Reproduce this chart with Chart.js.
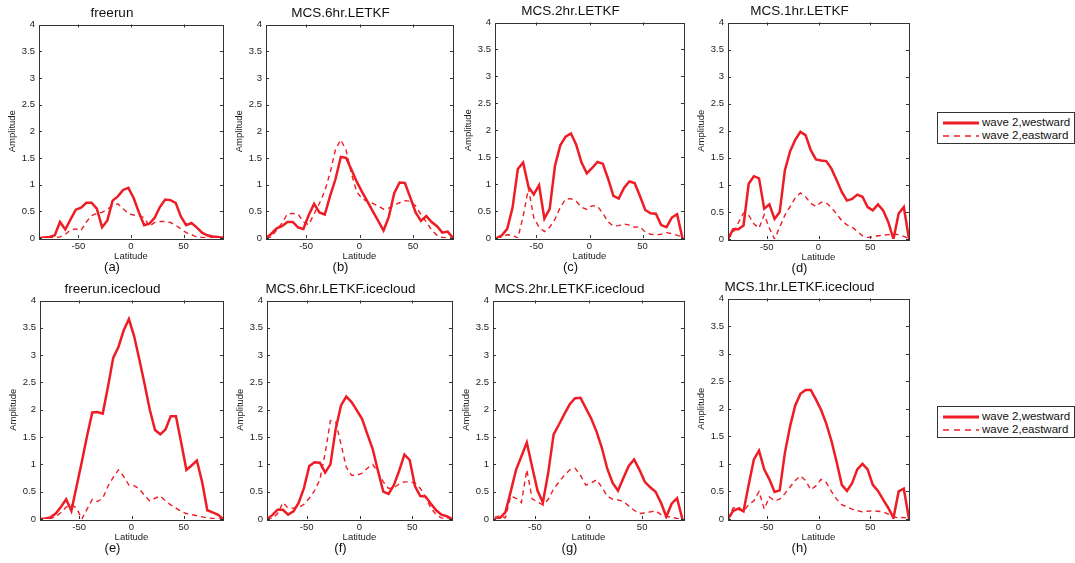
<!DOCTYPE html>
<html>
<head>
<meta charset="utf-8">
<script src="https://cdn.jsdelivr.net/npm/chart.js@4"></script>
<style>
  body { margin: 0; background: #fff; width: 1075px; height: 563px; position: relative; overflow: hidden; font-family: "Liberation Sans", Arial, sans-serif; }
  canvas { position: absolute; }
  .legend { position: absolute; left: 937px; width: 136px; height: 30px; border: 1px solid #333; background: #fff; font-size: 11.5px; color: #111; }
  .legend .row { position: absolute; left: 5px; height: 13px; line-height: 13px; white-space: nowrap; }
  .legend svg { vertical-align: middle; margin-right: 3px; }
</style>
</head>
<body>
<div class="legend" style="top:112px">
  <div class="row" style="top:3px"><svg width="36" height="6"><line x1="0" y1="3" x2="36" y2="3" stroke="#ee1c24" stroke-width="3"/></svg>wave 2,westward</div>
  <div class="row" style="top:16px"><svg width="36" height="6"><line x1="0" y1="3" x2="36" y2="3" stroke="#ee1c24" stroke-width="1.5" stroke-dasharray="6,5"/></svg>wave 2,eastward</div>
</div>
<div class="legend" style="top:406px">
  <div class="row" style="top:3px"><svg width="36" height="6"><line x1="0" y1="3" x2="36" y2="3" stroke="#ee1c24" stroke-width="3"/></svg>wave 2,westward</div>
  <div class="row" style="top:16px"><svg width="36" height="6"><line x1="0" y1="3" x2="36" y2="3" stroke="#ee1c24" stroke-width="1.5" stroke-dasharray="6,5"/></svg>wave 2,eastward</div>
</div>
<script>
// latitude grid (deg)
const lats = [-87.5, -82.5, -77.5, -72.5, -67.5, -62.5, -57.5, -52.5, -47.5, -42.5, -37.5, -32.5,
  -27.5, -22.5, -17.5, -12.5, -7.5, -2.5, 2.5, 7.5, 12.5, 17.5, 22.5, 27.5,
  32.5, 37.5, 42.5, 47.5, 52.5, 57.5, 62.5, 67.5, 72.5, 77.5, 82.5, 87.5];

const xTicks = [-50, 0, 50];
const yTicks = [0, 0.5, 1, 1.5, 2, 2.5, 3, 3.5, 4];

// wave 2 amplitude, westward (W) and eastward (E)
const freerunW = [0, 0.01, 0.02, 0.05, 0.3, 0.16, 0.35, 0.53, 0.57, 0.66, 0.66, 0.55, 0.2, 0.33, 0.7, 0.78, 0.9, 0.94,
  0.75, 0.48, 0.24, 0.27, 0.38, 0.58, 0.72, 0.71, 0.66, 0.4, 0.24, 0.28, 0.2, 0.1, 0.05, 0.03, 0.02, 0];
const freerunE = [0, 0, 0, 0.01, 0.02, 0.07, 0.15, 0.17, 0.14, 0.3, 0.42, 0.46, 0.48, 0.54, 0.6, 0.64, 0.55, 0.46,
  0.43, 0.42, 0.38, 0.22, 0.29, 0.31, 0.31, 0.29, 0.24, 0.17, 0.1, 0.06, 0.02, 0.01, 0, 0, 0.01, 0.02];

const mcs6W = [0, 0.08, 0.18, 0.22, 0.3, 0.3, 0.2, 0.17, 0.43, 0.64, 0.48, 0.44, 0.79, 1.1, 1.52, 1.5, 1.28, 1.05,
  0.86, 0.68, 0.5, 0.32, 0.14, 0.4, 0.84, 1.04, 1.03, 0.76, 0.48, 0.32, 0.41, 0.3, 0.22, 0.1, 0.12, 0];
const mcs6E = [0, 0.02, 0.15, 0.28, 0.45, 0.46, 0.45, 0.3, 0.25, 0.45, 0.65, 0.88, 1.22, 1.66, 1.84, 1.64, 1.2, 0.86,
  0.74, 0.68, 0.65, 0.6, 0.54, 0.56, 0.62, 0.66, 0.7, 0.69, 0.6, 0.44, 0.3, 0.15, 0.05, 0.01, 0, 0];

const mcs2W = [0, 0.05, 0.17, 0.56, 1.28, 1.4, 0.95, 0.81, 0.98, 0.36, 0.54, 1.34, 1.72, 1.88, 1.94, 1.73, 1.4, 1.2,
  1.3, 1.41, 1.38, 1.1, 0.78, 0.73, 0.93, 1.05, 1.02, 0.78, 0.52, 0.46, 0.45, 0.24, 0.2, 0.38, 0.44, 0];
const mcs2E = [0, 0.02, 0.06, 0.05, 0, 0.4, 0.92, 0.38, 0.2, 0.12, 0.2, 0.35, 0.57, 0.72, 0.73, 0.68, 0.57, 0.53,
  0.6, 0.59, 0.46, 0.3, 0.22, 0.23, 0.26, 0.24, 0.2, 0.21, 0.11, 0.07, 0.06, 0.07, 0.1, 0.08, 0.05, 0.02];

const mcs1W = [0, 0.18, 0.18, 0.25, 1.02, 1.16, 1.12, 0.56, 0.64, 0.37, 0.5, 1.27, 1.62, 1.83, 1.98, 1.92, 1.64, 1.47,
  1.45, 1.44, 1.3, 1.09, 0.87, 0.71, 0.74, 0.82, 0.78, 0.59, 0.53, 0.64, 0.53, 0.31, 0, 0.47, 0.59, 0];
const mcs1E = [0, 0.12, 0.3, 0.48, 0.44, 0.28, 0.2, 0.45, 0.2, 0, 0.22, 0.44, 0.6, 0.76, 0.85, 0.78, 0.66, 0.6,
  0.68, 0.67, 0.58, 0.46, 0.34, 0.26, 0.22, 0.14, 0.06, 0.03, 0.04, 0.06, 0.07, 0.08, 0.09, 0.08, 0.05, 0];

const iceFreerunW = [0, 0.01, 0.03, 0.1, 0.22, 0.36, 0.15, 0.6, 1.05, 1.52, 1.95, 1.96, 1.93, 2.42, 2.95, 3.15, 3.45, 3.66,
  3.35, 2.92, 2.47, 2.0, 1.63, 1.55, 1.64, 1.88, 1.88, 1.4, 0.9, 0.98, 1.07, 0.68, 0.16, 0.12, 0.08, 0];
const iceFreerunE = [0, 0, 0.01, 0.04, 0.12, 0.22, 0.26, 0.2, 0, 0.18, 0.36, 0.32, 0.38, 0.6, 0.76, 0.9, 0.78, 0.62,
  0.61, 0.55, 0.43, 0.33, 0.38, 0.42, 0.33, 0.26, 0.2, 0.14, 0.1, 0.08, 0.06, 0.04, 0.02, 0.01, 0, 0];

const iceMcs6W = [0, 0.07, 0.17, 0.17, 0.08, 0.14, 0.3, 0.57, 0.97, 1.04, 1.03, 0.85, 1.0, 1.65, 2.08, 2.24, 2.14, 1.99,
  1.83, 1.55, 1.28, 0.88, 0.5, 0.46, 0.62, 0.88, 1.18, 1.08, 0.6, 0.42, 0.41, 0.28, 0.16, 0.08, 0.05, 0];
const iceMcs6E = [0, 0, 0.1, 0.3, 0.2, 0.2, 0.21, 0.27, 0.38, 0.52, 0.72, 1.2, 1.8, 1.78, 1.37, 0.95, 0.8, 0.8,
  0.84, 0.93, 1.0, 0.86, 0.68, 0.56, 0.57, 0.64, 0.68, 0.68, 0.66, 0.56, 0.4, 0.2, 0.08, 0.02, 0, 0];

const iceMcs2W = [0, 0.02, 0.12, 0.5, 0.9, 1.15, 1.4, 0.95, 0.52, 0.3, 0.85, 1.55, 1.73, 1.92, 2.1, 2.21, 2.22, 2.03,
  1.84, 1.6, 1.3, 0.92, 0.66, 0.52, 0.75, 0.97, 1.09, 0.9, 0.68, 0.58, 0.5, 0.3, 0.04, 0.28, 0.38, 0];
const iceMcs2E = [0.03, 0.06, 0.02, 0.42, 0.38, 0.3, 0.9, 0.37, 0.31, 0.26, 0.36, 0.55, 0.68, 0.8, 0.9, 0.93, 0.8, 0.62,
  0.66, 0.72, 0.58, 0.42, 0.36, 0.35, 0.32, 0.24, 0.16, 0.1, 0.11, 0.13, 0.15, 0.08, 0.05, 0.03, 0.01, 0];

const iceMcs1W = [0, 0.15, 0.19, 0.14, 0.62, 1.08, 1.24, 0.9, 0.72, 0.49, 0.52, 1.2, 1.68, 2.06, 2.27, 2.34, 2.34, 2.17,
  1.98, 1.73, 1.42, 1.04, 0.62, 0.51, 0.65, 0.9, 1.0, 0.9, 0.62, 0.51, 0.35, 0.2, 0.02, 0.5, 0.55, 0];
const iceMcs1E = [0, 0.2, 0.22, 0.14, 0.26, 0.33, 0.5, 0.18, 0.4, 0.33, 0.36, 0.46, 0.58, 0.7, 0.78, 0.7, 0.53, 0.6,
  0.72, 0.66, 0.5, 0.36, 0.26, 0.22, 0.18, 0.15, 0.13, 0.14, 0.15, 0.14, 0.13, 0.09, 0.04, 0.02, 0.03, 0];

const red = "#ee1c24";
const font = "'Liberation Sans', Arial, sans-serif";

// plot box [left, top, right, bottom] of each subplot in the figure
const panels = [
  { title: "freerun", tag: "(a)", west: freerunW, east: freerunE, box: [39, 25, 223, 237], xr: [-87.5, 87.5] },
  { title: "MCS.6hr.LETKF", tag: "(b)", west: mcs6W, east: mcs6E, box: [266, 25, 453, 237], xr: [-87.5, 87.5] },
  { title: "MCS.2hr.LETKF", tag: "(c)", west: mcs2W, east: mcs2E, box: [495, 23, 684, 237], xr: [-89, 89] },
  { title: "MCS.1hr.LETKF", tag: "(d)", west: mcs1W, east: mcs1E, box: [728, 23, 909, 238], xr: [-87.5, 87.5] },
  { title: "freerun.icecloud", tag: "(e)", west: iceFreerunW, east: iceFreerunE, box: [40, 301, 223, 518], xr: [-87.5, 87.5] },
  { title: "MCS.6hr.LETKF.icecloud", tag: "(f)", west: iceMcs6W, east: iceMcs6E, box: [267, 301, 452, 518], xr: [-87.5, 87.5] },
  { title: "MCS.2hr.LETKF.icecloud", tag: "(g)", west: iceMcs2W, east: iceMcs2E, box: [493, 301, 684, 518], xr: [-89, 89] },
  { title: "MCS.1hr.LETKF.icecloud", tag: "(h)", west: iceMcs1W, east: iceMcs1E, box: [728, 299, 909, 518], xr: [-87.5, 87.5] },
];

// matlab style frame with inward ticks
const matlabBox = {
  id: "matlabBox",
  afterDatasetsDraw(chart) {
    const { ctx, chartArea: a, scales } = chart;
    ctx.save();
    ctx.strokeStyle = "#333";
    ctx.lineWidth = 1;
    ctx.strokeRect(Math.round(a.left) + 0.5, Math.round(a.top) + 0.5, Math.round(a.right - a.left), Math.round(a.bottom - a.top));
    ctx.beginPath();
    xTicks.forEach(v => {
      const px = Math.round(scales.x.getPixelForValue(v)) + 0.5;
      ctx.moveTo(px, a.bottom); ctx.lineTo(px, a.bottom - 3);
      ctx.moveTo(px, a.top); ctx.lineTo(px, a.top + 3);
    });
    yTicks.forEach(v => {
      const py = Math.round(scales.y.getPixelForValue(v)) + 0.5;
      ctx.moveTo(a.left, py); ctx.lineTo(a.left + 3, py);
      ctx.moveTo(a.right, py); ctx.lineTo(a.right - 3, py);
    });
    ctx.stroke();
    ctx.restore();
  }
};

const TITLE_H = 24, XAXIS_H = 23, TAG_H = 14, YAXIS_W = 38;

panels.forEach(p => {
  const [l, t, r, b] = p.box;
  const cv = document.createElement("canvas");
  const w = (r - l) + YAXIS_W * 2;
  const h = (b - t) + TITLE_H + XAXIS_H + TAG_H;
  cv.width = w;
  cv.height = h;
  cv.style.left = (l - YAXIS_W) + "px";
  cv.style.top = (t - TITLE_H) + "px";
  document.body.appendChild(cv);

  new Chart(cv.getContext("2d"), {
    type: "line",
    data: {
      datasets: [
        {
          label: "wave 2,westward",
          data: lats.map((x, i) => ({ x: x, y: p.west[i] })),
          borderColor: red,
          borderWidth: 2.5,
          pointRadius: 0,
          tension: 0,
        },
        {
          label: "wave 2,eastward",
          data: lats.map((x, i) => ({ x: x, y: p.east[i] })),
          borderColor: red,
          borderWidth: 1.4,
          borderDash: [5, 4],
          pointRadius: 0,
          tension: 0,
        },
      ],
    },
    options: {
      responsive: false,
      animation: false,
      layout: { padding: { left: 0, right: YAXIS_W, top: 0, bottom: 0 } },
      plugins: {
        legend: { display: false },
        tooltip: { enabled: false },
        title: {
          display: true,
          text: p.title,
          color: "#111",
          font: { family: font, size: 13.5, weight: "normal", lineHeight: 1 },
          padding: { top: 6, bottom: 4 },
        },
        subtitle: {
          display: true,
          position: "bottom",
          text: p.tag,
          color: "#111",
          font: { family: font, size: 13, lineHeight: 1 },
          padding: 0,
        },
      },
      scales: {
        x: {
          type: "linear",
          min: p.xr[0],
          max: p.xr[1],
          grid: { display: false, drawTicks: false },
          border: { display: false },
          afterBuildTicks: s => { s.ticks = xTicks.map(v => ({ value: v })); },
          afterFit: s => { s.height = XAXIS_H; },
          ticks: { color: "#222", padding: 3, maxRotation: 0, autoSkip: false, font: { family: font, size: 9.5 }, callback: v => String(v) },
          title: { display: true, text: "Latitude", color: "#222", padding: 0, font: { family: font, size: 9.5, lineHeight: 1 } },
        },
        y: {
          min: 0,
          max: 4,
          grid: { display: false, drawTicks: false },
          border: { display: false },
          afterBuildTicks: s => { s.ticks = yTicks.map(v => ({ value: v })); },
          afterFit: s => { s.width = YAXIS_W; },
          ticks: { color: "#222", padding: 4, autoSkip: false, font: { family: font, size: 9.5 }, callback: v => String(v) },
          title: { display: true, text: "Amplitude", color: "#222", padding: { top: 7, bottom: 0 }, font: { family: font, size: 9.5, lineHeight: 1 } },
        },
      },
    },
    plugins: [matlabBox],
  });
});
</script>
</body>
</html>
